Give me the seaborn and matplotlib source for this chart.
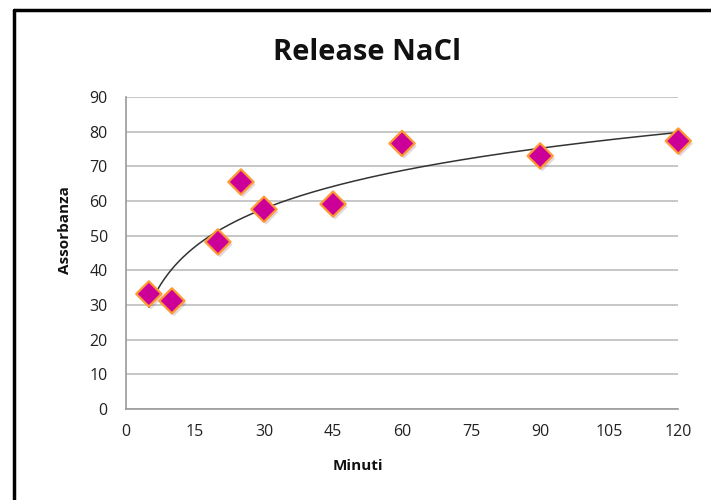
import numpy as np
import pandas as pd
import matplotlib
matplotlib.use("Agg")
import matplotlib.pyplot as plt
import matplotlib.patheffects as pe
from matplotlib.lines import Line2D
import seaborn as sns

# Release data: time (minutes) vs absorbance
minuti = [5, 10, 20, 25, 30, 45, 60, 90, 120]
assorbanza = [33.2, 31.2, 48.2, 65.5, 57.6, 59.1, 76.6, 73.0, 77.3]
x_ticks = [0, 15, 30, 45, 60, 75, 90, 105, 120]
y_ticks = [0, 10, 20, 30, 40, 50, 60, 70, 80, 90]

df = pd.DataFrame({"Minuti": minuti, "Assorbanza": assorbanza})

sns.set_theme(style="white")
plt.rcParams["font.family"] = ["Open Sans", "DejaVu Sans"]

fig = plt.figure(figsize=(7.11, 5.0), dpi=100)
ax = fig.add_axes([0.177, 0.182, 0.777, 0.624])

# logarithmic trendline fitted on the points
coef = np.polyfit(np.log(df["Minuti"]), df["Assorbanza"], 1)
xs = np.linspace(min(minuti), max(minuti), 300)
ax.plot(xs, coef[0] * np.log(xs) + coef[1], color="#333333", lw=1.1, zorder=3)

sns.scatterplot(data=df, x="Minuti", y="Assorbanza", ax=ax, marker="D", s=165,
                color="#CC0099", edgecolor="#FF9933", linewidth=1.6, zorder=4,
                clip_on=False,
                path_effects=[pe.SimplePatchShadow(offset=(1.5, -2), alpha=0.15),
                              pe.Normal()])

ax.set_xlim(0, 120)
ax.set_ylim(0, 90)
ax.set_xticks(x_ticks)
ax.set_yticks(y_ticks)
ax.tick_params(axis="both", length=0, labelsize=11.5, colors="#222222")
ax.tick_params(axis="x", pad=11)
ax.tick_params(axis="y", pad=13)
ax.grid(axis="y", color="#bdbdbd", lw=1.2)
ax.grid(axis="x", visible=False)
for side in ["top", "right"]:
    ax.spines[side].set_visible(False)
for side in ["left", "bottom"]:
    ax.spines[side].set_color("#9a9a9a")
    ax.spines[side].set_linewidth(1.2)
ax.set_xlabel("")
ax.set_ylabel("")

fig.text(0.516, 0.896, "Release NaCl", ha="center", va="center",
         fontsize=21, fontweight="bold", color="#111111")
fig.text(0.504, 0.068, "Minuti", ha="center", va="center",
         fontsize=11, fontweight="bold", color="#111111")
fig.text(0.092, 0.54, "Assorbanza", ha="center", va="center", rotation=90,
         fontsize=11, fontweight="bold", color="#111111")

# chart frame
fig.add_artist(Line2D([0.019, 1.0], [0.98, 0.98], color="black", lw=2.5,
                      transform=fig.transFigure))
fig.add_artist(Line2D([0.019, 0.019], [0.0, 0.98], color="black", lw=2.5,
                      transform=fig.transFigure))

fig.savefig("out.png", dpi=100)
